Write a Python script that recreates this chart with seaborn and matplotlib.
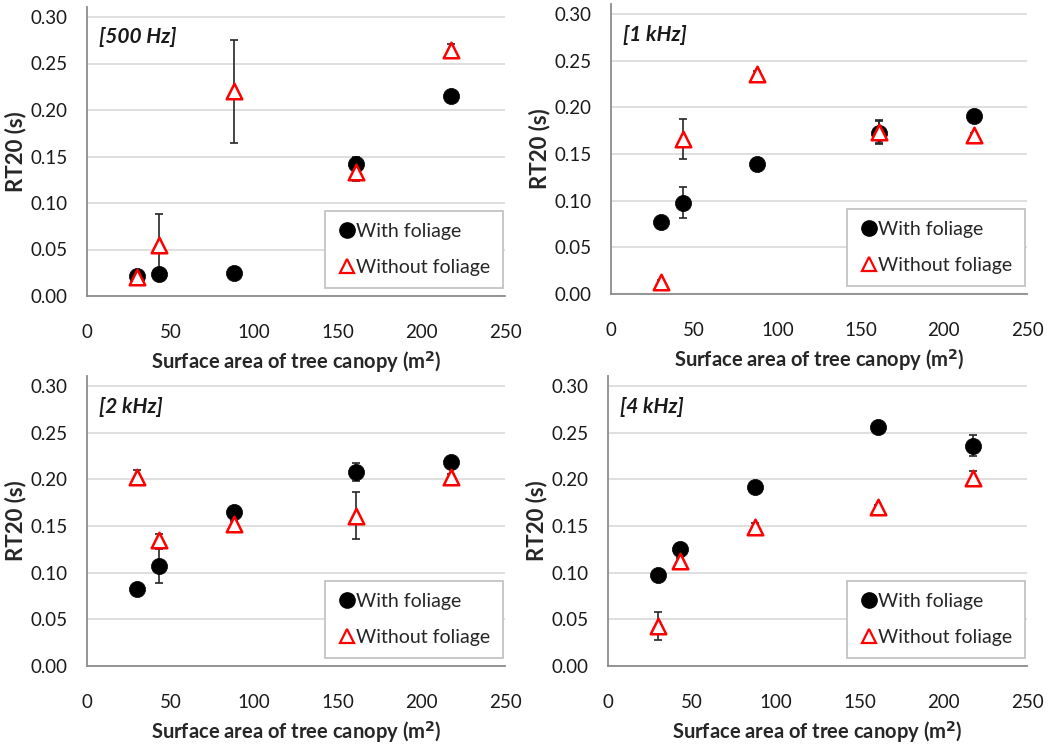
import numpy as np
import pandas as pd
import matplotlib
matplotlib.use("Agg")
import matplotlib.pyplot as plt
import seaborn as sns
from matplotlib.lines import Line2D

sns.set_style("white")
plt.rcParams['font.family'] = ['Lato', 'DejaVu Sans']

# ---------------- data ----------------
canopy_area = [30, 43, 88, 161, 218]
bands = ["[500 Hz]", "[1 kHz]", "[2 kHz]", "[4 kHz]"]

with_500 = [0.021, 0.024, 0.025, 0.142, 0.215]
with_500_err = [0.003, 0.003, 0.002, 0.008, 0.003]
without_500 = [0.020, 0.055, 0.220, 0.133, 0.265]
without_500_err = [0.003, 0.033, 0.055, 0.009, 0.006]

with_1k = [0.077, 0.098, 0.139, 0.173, 0.191]
with_1k_err = [0.003, 0.017, 0.003, 0.012, 0.003]
without_1k = [0.013, 0.166, 0.236, 0.174, 0.170]
without_1k_err = [0.002, 0.021, 0.003, 0.012, 0.003]

with_2k = [0.082, 0.107, 0.165, 0.208, 0.219]
with_2k_err = [0.003, 0.018, 0.004, 0.010, 0.003]
without_2k = [0.202, 0.135, 0.152, 0.161, 0.203]
without_2k_err = [0.008, 0.006, 0.003, 0.025, 0.003]

with_4k = [0.098, 0.125, 0.192, 0.256, 0.236]
with_4k_err = [0.004, 0.004, 0.003, 0.003, 0.011]
without_4k = [0.043, 0.112, 0.149, 0.170, 0.201]
without_4k_err = [0.015, 0.004, 0.004, 0.003, 0.008]

series_with = [with_500, with_1k, with_2k, with_4k]
series_with_err = [with_500_err, with_1k_err, with_2k_err, with_4k_err]
series_without = [without_500, without_1k, without_2k, without_4k]
series_without_err = [without_500_err, without_1k_err, without_2k_err, without_4k_err]

yticks = [0.00, 0.05, 0.10, 0.15, 0.20, 0.25, 0.30]
xticks = [0, 50, 100, 150, 200, 250]

# ---------------- figure ----------------
W, H = 1051, 744
fig = plt.figure(figsize=(W / 100, H / 100), dpi=100)

# pixel boxes: (left, right, y of 0.30, y of 0.00)
boxes = [(87, 505, 17, 296), (611, 1027, 14, 294),
         (87, 505, 386, 666), (608, 1027, 386, 666)]
ytop = 0.311

grid_c = "#d9d9d9"
spine_c = "#8c8c8c"
fs = 13.5

for i, (l, r, t30, b0) in enumerate(boxes):
    ppu = (b0 - t30) / 0.30
    t = b0 - ppu * ytop
    ax = fig.add_axes([l / W, 1 - b0 / H, (r - l) / W, (b0 - t) / H])

    df_w = pd.DataFrame({"area": canopy_area, "rt": series_with[i]})
    df_wo = pd.DataFrame({"area": canopy_area, "rt": series_without[i]})

    ax.errorbar(canopy_area, series_with[i], yerr=series_with_err[i], fmt='none',
                ecolor="#262626", elinewidth=1.2, capsize=3, capthick=1.2, zorder=2)
    ax.errorbar(canopy_area, series_without[i], yerr=series_without_err[i], fmt='none',
                ecolor="#262626", elinewidth=1.2, capsize=3, capthick=1.2, zorder=2)
    sns.scatterplot(data=df_w, x="area", y="rt", ax=ax, marker="o", s=135,
                    color="black", edgecolor="black", linewidth=0.5, zorder=3)
    sns.scatterplot(data=df_wo, x="area", y="rt", ax=ax, marker="^", s=125,
                    color="white", edgecolor="#ff0000", linewidth=1.8, zorder=4)

    ax.set_xlim(0, 250)
    ax.set_ylim(0, ytop)
    ax.set_xticks(xticks)
    ax.set_yticks(yticks)
    ax.set_xticklabels([str(v) for v in xticks], fontsize=fs, color="#1a1a1a")
    ax.set_yticklabels([f"{v:.2f}" for v in yticks], fontsize=fs, color="#1a1a1a")
    ax.yaxis.grid(True, color=grid_c, linewidth=1.2)
    ax.xaxis.grid(False)
    ax.set_axisbelow(True)
    for s in ["top", "right"]:
        ax.spines[s].set_visible(False)
    for s in ["left", "bottom"]:
        ax.spines[s].set_color(spine_c)
        ax.spines[s].set_linewidth(1.3)
    ax.tick_params(axis="both", which="major", direction="out", length=6,
                   width=1.2, color=spine_c, pad=8)
    ax.tick_params(axis="x", pad=14)

    ax.set_xlabel("Surface area of tree canopy (m$^{\\mathbf{2}}$)", fontsize=fs + 1,
                  fontweight="bold", labelpad=6)
    ax.set_ylabel("RT20 (s)", fontsize=fs + 2.5, fontweight="bold", labelpad=3)

    ax.text(7, 0.278, bands[i], fontsize=fs + 1.5, fontweight="bold", style="italic",
            va="center", ha="left", color="#1a1a1a")

    handles = [Line2D([], [], marker="o", linestyle="none", markersize=11,
                      markerfacecolor="black", markeredgecolor="black"),
               Line2D([], [], marker="^", linestyle="none", markersize=10,
                      markerfacecolor="white", markeredgecolor="#ff0000",
                      markeredgewidth=1.6)]
    leg = ax.legend(handles, ["With foliage", "Without foliage"], loc="lower right",
                    bbox_to_anchor=(1.0, 0.02), fontsize=fs + 0.5, frameon=True,
                    fancybox=False, edgecolor="#bfbfbf", framealpha=1,
                    handletextpad=0.05, handlelength=0.9, labelspacing=0.95,
                    borderpad=0.65, borderaxespad=0.1)
    leg.get_frame().set_linewidth(1.2)

fig.savefig("out.png", dpi=100)
